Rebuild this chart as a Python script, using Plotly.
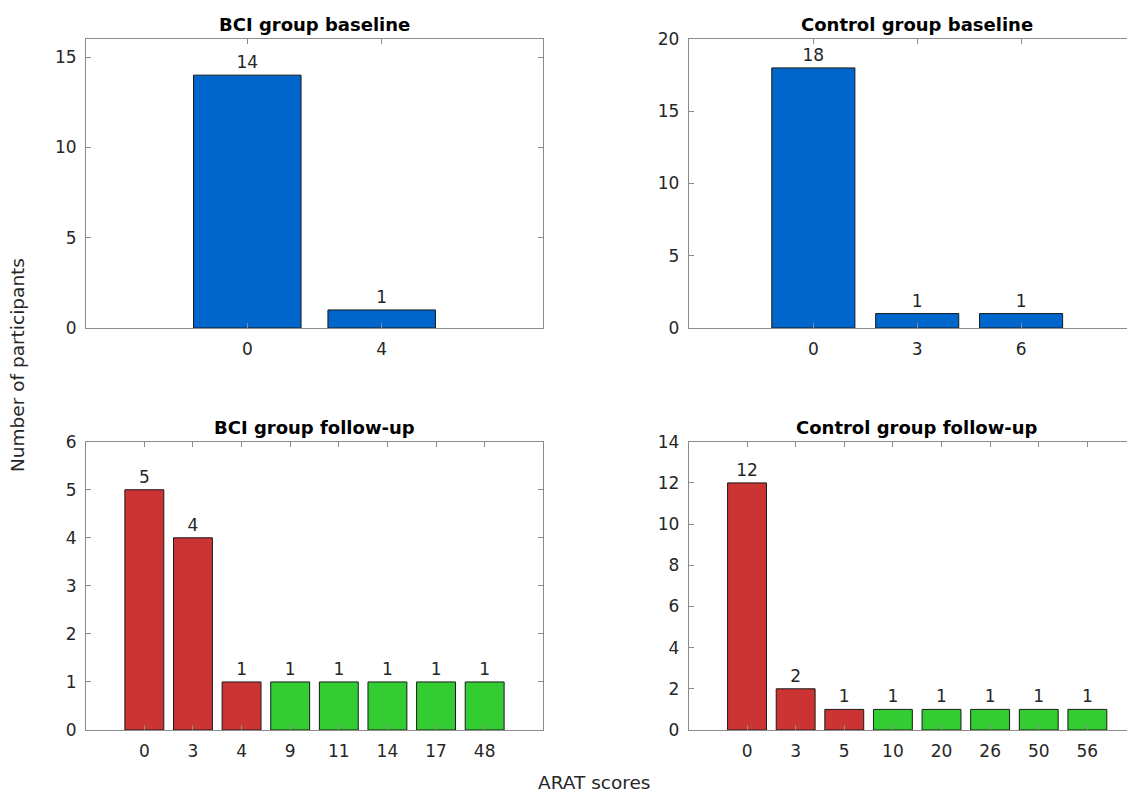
import plotly.graph_objects as go

# ---------------- data ----------------
bci_base_scores = ["0", "4"]
bci_base_counts = [14, 1]

ctrl_base_scores = ["0", "3", "6"]
ctrl_base_counts = [18, 1, 1]

bci_follow_scores = ["0", "3", "4", "9", "11", "14", "17", "48"]
bci_follow_counts = [5, 4, 1, 1, 1, 1, 1, 1]

ctrl_follow_scores = ["0", "3", "5", "10", "20", "26", "50", "56"]
ctrl_follow_counts = [12, 2, 1, 1, 1, 1, 1, 1]

titles = ["BCI group baseline", "Control group baseline",
          "BCI group follow-up", "Control group follow-up"]
y_tops = [16, 20, 6, 14]
y_dticks = [5, 5, 1, 2]

# ---------------- style ----------------
WIN_W, WIN_H = 1135, 796
OFF = 8                      # default page body margin
W, H = WIN_W - OFF, WIN_H - OFF
BLUE = "#0066CC"
RED = "#CC3333"
GREEN = "#33CC33"
EDGE = "#1a1a1a"
AXC = "#8c8c8c"
TXT = "#262626"
FONT = "DejaVu Sans, Liberation Sans, Arial, sans-serif"
TICK_SIZE = 17
LABEL_SIZE = 18.5
TITLE_SIZE = 18
GREEN_FROM = 9  # scores at or above this are drawn green

# axes boxes in window pixels (left, right, top, bottom); right column runs off the page
boxes = [(86, 543, 39, 328), (688.7, 1145.7, 39, 328),
         (86, 543, 441.7, 730), (688.7, 1145.7, 441.7, 730)]

panels = [
    (bci_base_scores, bci_base_counts, False),
    (ctrl_base_scores, ctrl_base_counts, False),
    (bci_follow_scores, bci_follow_counts, True),
    (ctrl_follow_scores, ctrl_follow_counts, True),
]


def px(x):
    return (x - OFF) / W


def py(y):
    return 1 - (y - OFF) / H


fig = go.Figure()
layout = dict(
    template="none",
    width=W, height=H,
    margin=dict(l=0, r=0, t=0, b=0, pad=0, autoexpand=False),
    paper_bgcolor="white", plot_bgcolor="white", showlegend=False,
    font=dict(family=FONT, size=TICK_SIZE, color=TXT),
)

annotations = []
for i, ((cats, vals, two_col), (l, r, t, b), title, ytop, dt) in enumerate(
        zip(panels, boxes, titles, y_tops, y_dticks)):
    n = i + 1
    xa = "x" if n == 1 else f"x{n}"
    ya = "y" if n == 1 else f"y{n}"
    pos = list(range(len(cats)))
    if two_col:
        colors = [GREEN if int(c) >= GREEN_FROM else RED for c in cats]
    else:
        colors = [BLUE] * len(cats)
    fig.add_trace(go.Bar(
        x=pos, y=vals, width=0.8, xaxis=xa, yaxis=ya,
        marker=dict(color=colors, line=dict(color=EDGE, width=1)),
        text=[str(v) for v in vals], textposition="outside",
        textfont=dict(family=FONT, size=TICK_SIZE, color=TXT),
        constraintext="none", cliponaxis=False, hoverinfo="skip",
    ))
    px_per_unit = (r - l) / (len(cats) - 1 + 2.4)
    x_right = min(r, WIN_W)
    xr = [-1.2, -1.2 + (x_right - l) / px_per_unit]
    dom_x = [px(l), px(x_right)]
    dom_y = [py(b), py(t)]
    cut = r > WIN_W
    layout["xaxis" if n == 1 else f"xaxis{n}"] = dict(
        domain=dom_x, range=xr, anchor=ya, tickmode="array",
        tickvals=pos, ticktext=cats, ticks="inside", ticklen=5,
        tickcolor=AXC, showline=True, linecolor=AXC, linewidth=1,
        mirror="ticks", showgrid=False, zeroline=False, automargin=False,
        ticklabelstandoff=6,
        tickfont=dict(family=FONT, size=TICK_SIZE, color=TXT),
        fixedrange=True,
    )
    layout["yaxis" if n == 1 else f"yaxis{n}"] = dict(
        domain=dom_y, range=[0, ytop], anchor=xa, dtick=dt, tick0=0,
        ticks="inside", ticklen=5, tickcolor=AXC, showline=True,
        linecolor=AXC, linewidth=1, mirror=False if cut else "ticks",
        showgrid=False, zeroline=False, automargin=False,
        ticklabelstandoff=5,
        tickfont=dict(family=FONT, size=TICK_SIZE, color=TXT),
        fixedrange=True,
    )
    annotations.append(dict(
        text=f"<b>{title}</b>", x=px((l + r) / 2), y=py(t - 2),
        xref="paper", yref="paper", xanchor="center", yanchor="bottom",
        showarrow=False, font=dict(family=FONT, size=TITLE_SIZE, color="black"),
    ))

annotations.append(dict(
    text="Number of participants", x=px(18), y=py(365),
    xref="paper", yref="paper", xanchor="center", yanchor="middle",
    textangle=-90, showarrow=False,
    font=dict(family=FONT, size=LABEL_SIZE, color=TXT),
))
annotations.append(dict(
    text="ARAT scores", x=px(594), y=py(795),
    xref="paper", yref="paper", xanchor="center", yanchor="bottom",
    showarrow=False, font=dict(family=FONT, size=LABEL_SIZE, color=TXT),
))
layout["annotations"] = annotations
fig.update_layout(**layout)
fig.write_html("out.html")
